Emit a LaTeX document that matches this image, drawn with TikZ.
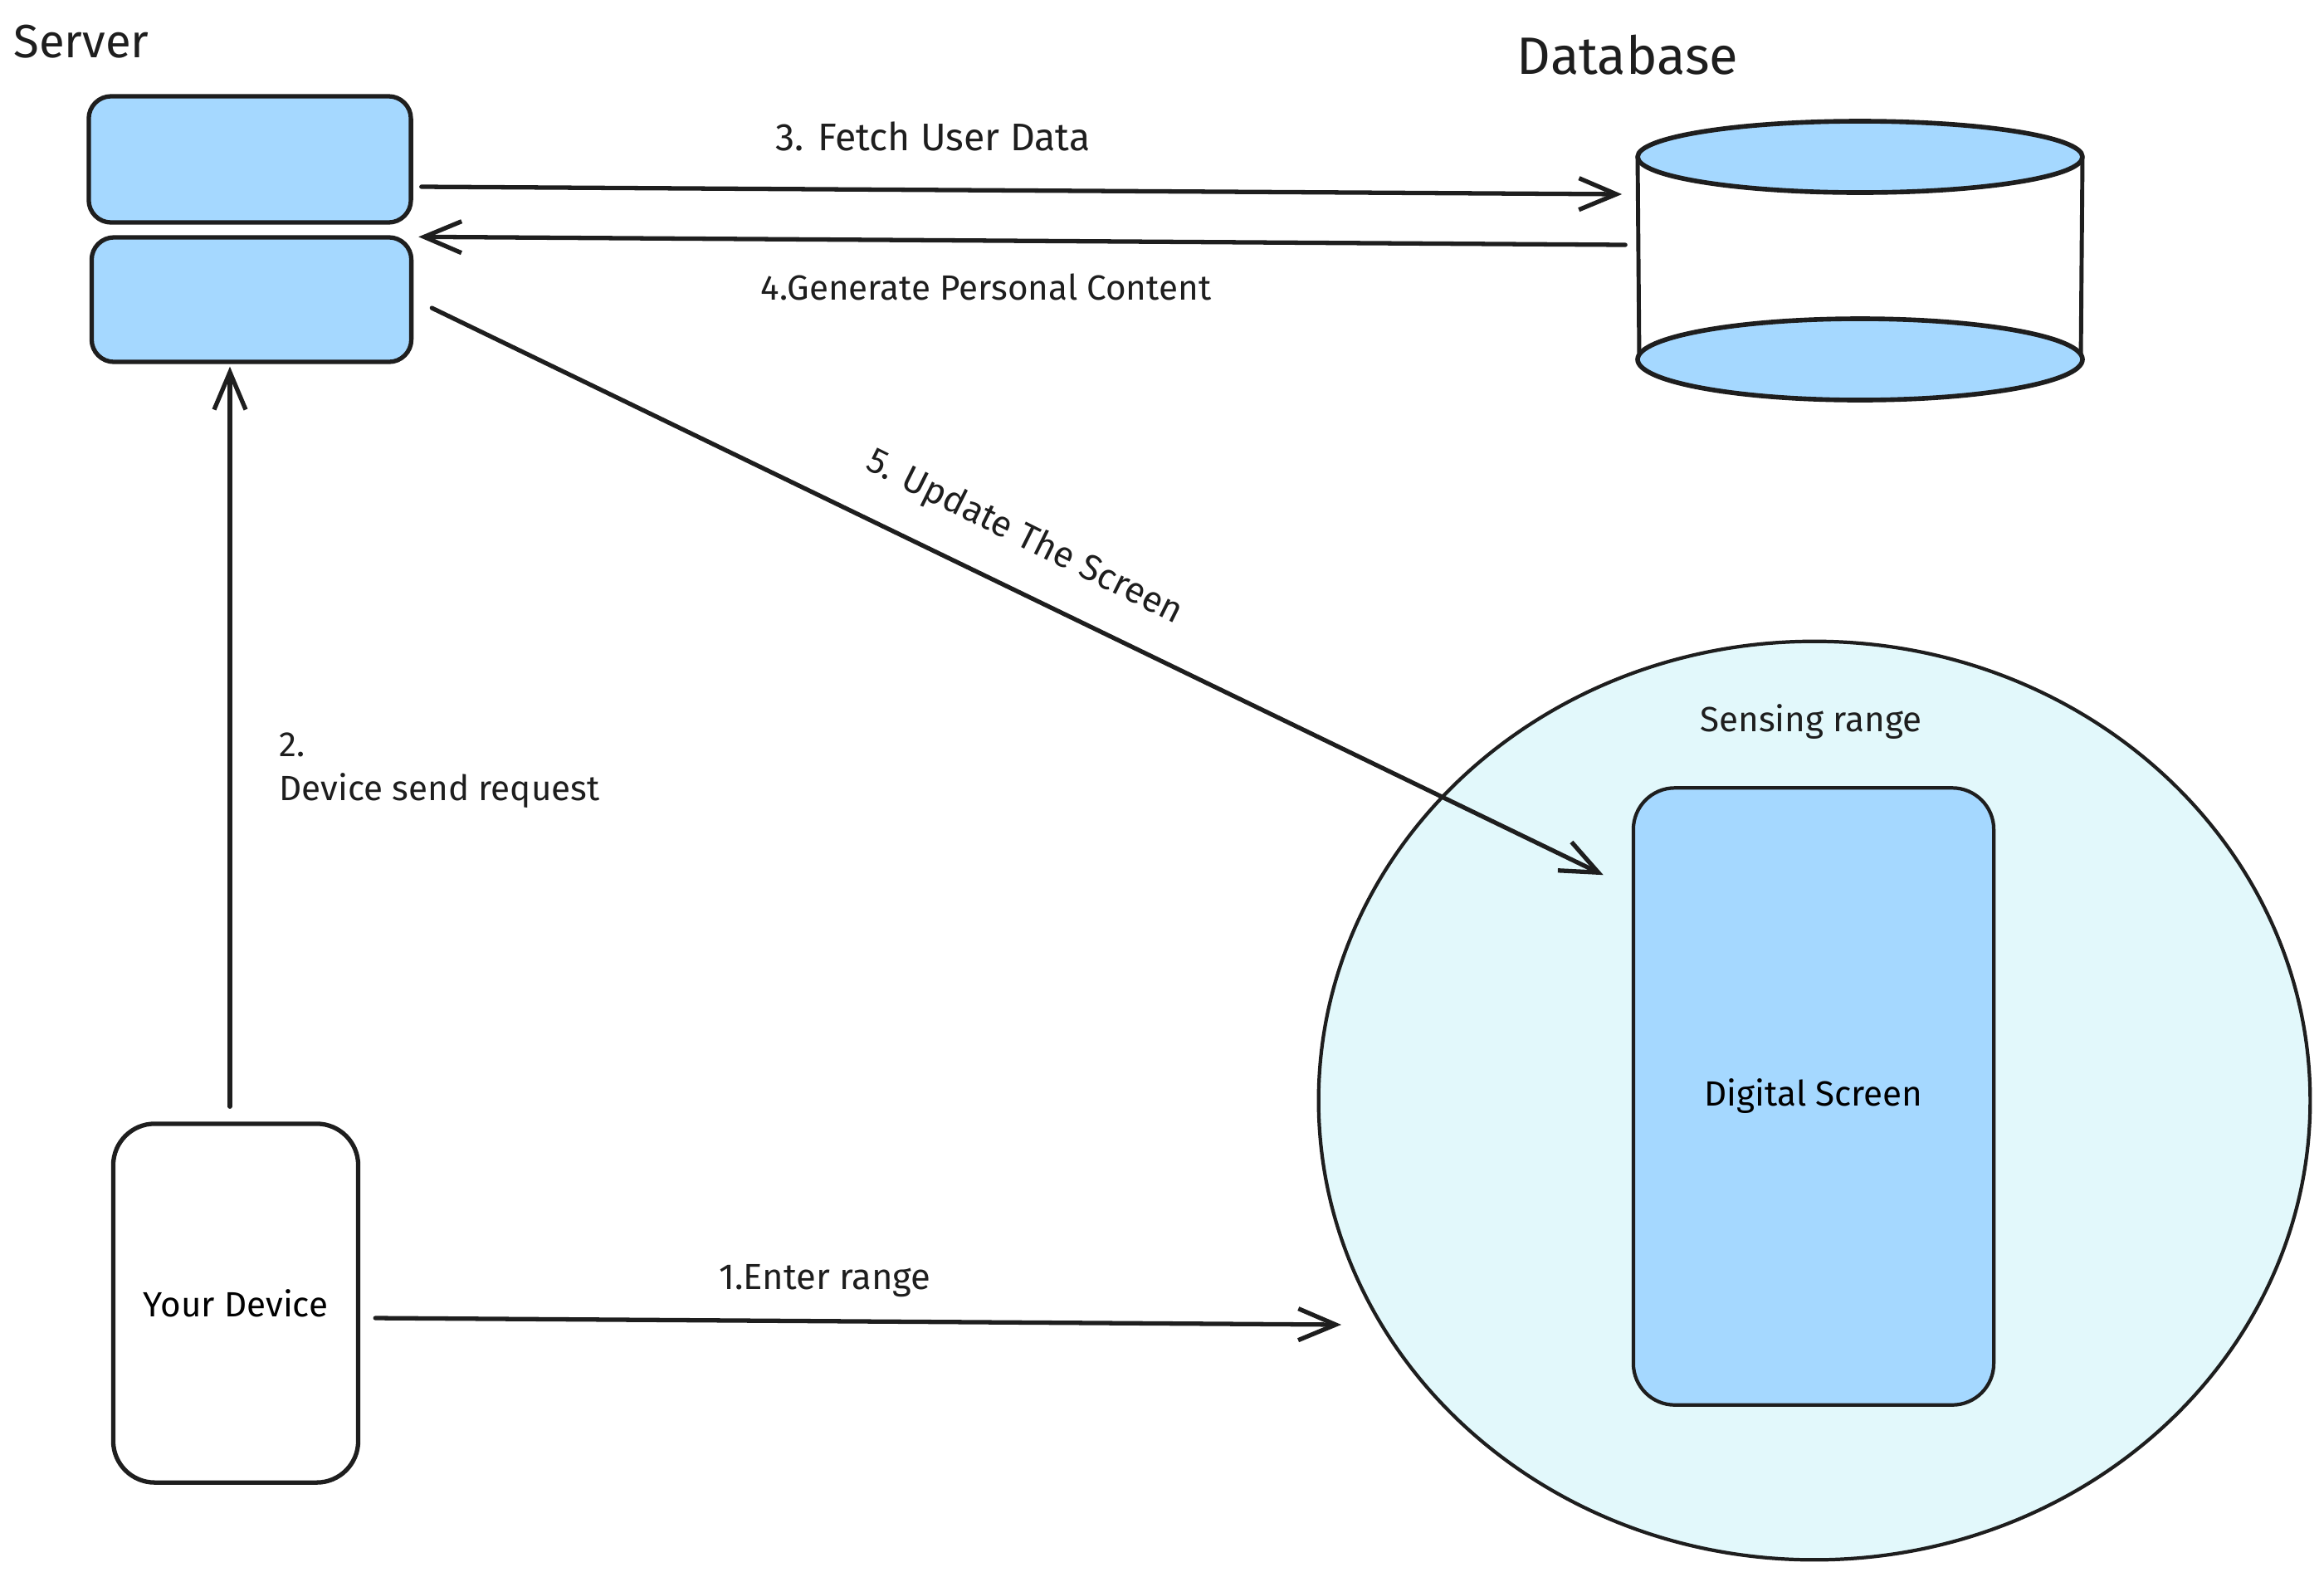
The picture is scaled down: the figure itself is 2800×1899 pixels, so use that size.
\documentclass[tikz,border=0pt]{standalone}
\usepackage{fontspec}
\setmainfont{Fira Sans}
\usetikzlibrary{arrows.meta,calc,shapes.geometric}
\definecolor{ink}{HTML}{1E1E1E}
\definecolor{boxblue}{HTML}{A5D8FF}
\definecolor{rangecyan}{HTML}{E2F8FB}
\begin{document}
\begin{tikzpicture}[x=0.01cm,y=-0.01cm,line cap=round,line join=round,
  box/.style={draw=ink,line width=1.5pt,inner sep=0pt,rectangle},
  bluebox/.style={box,fill=boxblue,rounded corners=0.27cm},
  arr/.style={draw=ink,line width=1.5pt,-{Straight Barb[length=0.45cm,width=0.38cm,line width=1.5pt]}},
  lbl/.style={text=ink,font=\fontsize{12}{15}\selectfont,inner sep=0pt},
  title/.style={text=ink,inner sep=0pt}]
\useasboundingbox (0,0) rectangle (2800,1899);
\fill[white] (0,0) rectangle (2800,1899);

% titles
\node[title,font=\fontsize{16}{19}\selectfont] (servertitle) at (98,50) {Server};
\node[title,font=\fontsize{18}{21}\selectfont] (dbtitle) at (1961,66) {Database};

% server boxes
\node[bluebox,minimum width=3.88cm,minimum height=1.52cm] (s1) at (301,192) {};
\node[bluebox,minimum width=3.85cm,minimum height=1.50cm] (s2) at (303,361) {};

% database cylinder
\node[inner sep=0pt,minimum width=5.36cm,minimum height=3.36cm] (db) at (2241,314) {};
\fill[white] (1973,189) rectangle (2509,433);
\draw[ink,line width=1.4pt] (1973,189) -- (1975,433);
\draw[ink,line width=1.4pt] (2509,189) -- (2507,433);
\draw[ink,line width=1.6pt,fill=boxblue] (2241,433) ellipse [x radius=268,y radius=49];
\draw[ink,line width=1.6pt,fill=boxblue] (2241,189) ellipse [x radius=268,y radius=43];

% sensing range
\node[ellipse,draw=ink,line width=1.2pt,fill=rangecyan,minimum width=11.94cm,minimum height=11.06cm,inner sep=0pt] (range) at (2186,1326) {};
\node[lbl] (rangelbl) at (2182,870) {Sensing range};
\node[box,line width=1.2pt,fill=boxblue,rounded corners=0.5cm,minimum width=4.34cm,minimum height=7.43cm,font=\fontsize{12}{15}\selectfont] (scr) at (2185,1321) {Digital Screen};

% device
\node[box,fill=white,rounded corners=0.5cm,minimum width=2.95cm,minimum height=4.32cm,font=\fontsize{12}{15}\selectfont] (dev) at (284,1570) {Your Device};

% connectors
\draw[arr] ($(s1.east)+(10,33)$) -- ($(db.west)+(-18,-80)$);
\node[lbl,font=\fontsize{13.2}{15}\selectfont] (l3) at (1124,164) {3. Fetch User Data};
\draw[arr] ($(db.west)+(-14,-19)$) -- ($(s2.north east)+(6,2)$);
\node[lbl] (l4) at (1188,346) {4.Generate Personal Content};
\draw[arr] ($(s2.east)+(22,10)$) -- ($(scr.north west)+(-34,107)$);
\node[lbl,font=\fontsize{12.4}{15}\selectfont,rotate=-26.5] (l5) at (1234,648) {5. Update The Screen};
\draw[arr] ($(dev.north)+(-7,-18)$) -- ($(s2.south)+(-26,3)$);
\node[lbl,align=left,anchor=west] (l2) at (336,928) {2.\\Device send request};
\draw[arr] ($(dev.east)+(18,18)$) -- (1616,1596);
\node[lbl,font=\fontsize{12.4}{15}\selectfont] (l1) at (994,1543) {1.Enter range};
\end{tikzpicture}
\end{document}
